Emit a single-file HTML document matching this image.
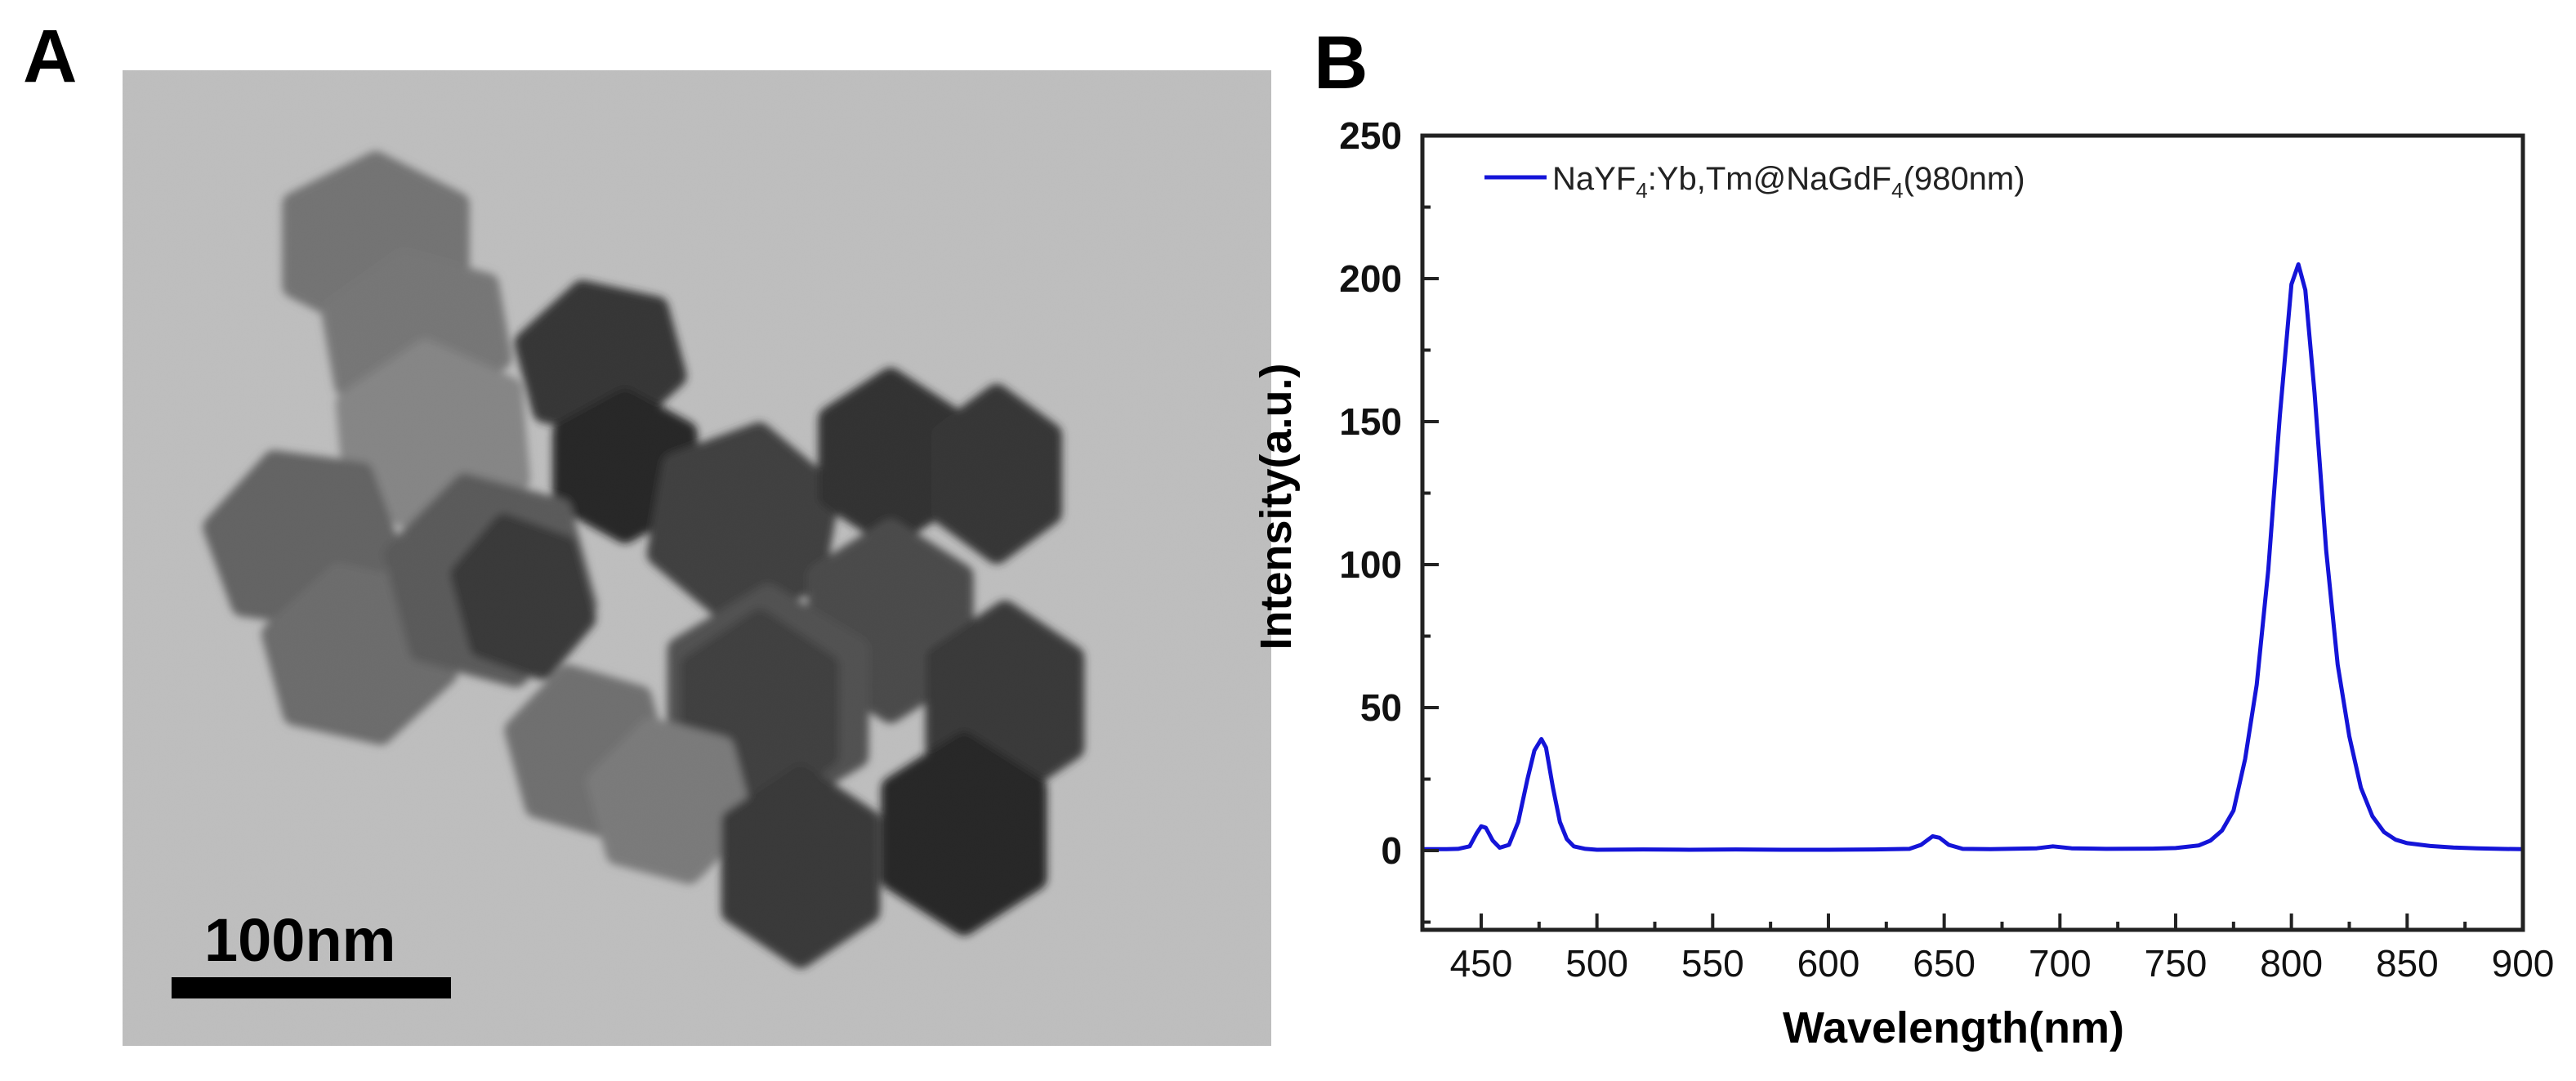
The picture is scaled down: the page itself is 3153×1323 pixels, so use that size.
<!DOCTYPE html>
<html><head><meta charset="utf-8"><style>
html,body{margin:0;padding:0;background:#fff;}
svg{display:block;}
text{font-family:"Liberation Sans",Arial,sans-serif;}
</style></head><body>
<svg id="fig" width="3153" height="1323" viewBox="0 0 3153 1323" xmlns="http://www.w3.org/2000/svg">
<defs>
<filter id="noise" x="0" y="0" width="100%" height="100%">
<feTurbulence type="fractalNoise" baseFrequency="0.9" numOctaves="2" seed="3" result="n"/>
<feColorMatrix type="matrix" values="0 0 0 0 0.72  0 0 0 0 0.72  0 0 0 0 0.72  0.35 0.35 0.35 0 -0.2" in="n" result="c"/>
<feComposite in="c" in2="SourceGraphic" operator="over"/>
</filter>
<filter id="blur"><feGaussianBlur stdDeviation="5"/></filter>
<clipPath id="temclip"><rect x="150" y="86" width="1406" height="1194"/></clipPath>
</defs>

<!-- Panel A -->
<text x="28" y="100" font-size="92" font-weight="bold">A</text>
<g clip-path="url(#temclip)">
<rect x="150" y="86" width="1406" height="1194" fill="#bdbdbd"/>
<g id="particles" filter="url(#blur)" stroke-linejoin="round"></g>
<rect x="150" y="86" width="1406" height="1194" fill="#bdbdbd" filter="url(#noise)" opacity="0.1"/>
</g>
<text x="250" y="1176" font-size="74" font-weight="bold">100nm</text>
<rect x="210" y="1196" width="342" height="26" fill="#000"/>

<!-- Panel B -->
<text x="1608" y="108" font-size="92" font-weight="bold">B</text>
<g id="chart"></g>
</svg>
<script>
// ---- TEM particles (decorative) ----
const NS="http://www.w3.org/2000/svg";
const particles=[
 [460,300,115,100,0,"#6a6a6a"],[510,410,110,90,-10,"#6e6e6e"],[530,540,115,110,-5,"#7e7e7e"],
 [735,440,95,85,-15,"#262626"],[765,570,85,80,0,"#181818"],
 [370,660,110,100,-20,"#585858"],[440,800,110,100,-15,"#626262"],
 [600,710,120,120,-15,"#505050"],[640,730,75,90,-15,"#2c2c2c"],
 [910,640,110,110,10,"#333333"],[1090,560,85,95,0,"#232323"],[1220,580,75,95,0,"#262626"],
 [1090,760,100,110,0,"#3c3c3c"],[940,860,125,130,0,"#444444"],[930,870,95,110,0,"#303030"],
 [1230,860,95,110,0,"#2c2c2c"],[720,920,90,95,-15,"#666666"],[820,980,90,90,-15,"#727272"],
 [980,1060,95,110,0,"#2a2a2a"],[1180,1020,100,110,0,"#161616"]
];
const pg=document.getElementById('particles');
particles.forEach(p=>{
 const [cx,cy,rx,ry,rot,col]=p;
 const pts=[];
 for(let i=0;i<6;i++){const a=Math.PI/3*i+Math.PI/6;pts.push((cx+rx*Math.cos(a)).toFixed(1)+","+(cy+ry*Math.sin(a)).toFixed(1));}
 const el=document.createElementNS(NS,'polygon');
 
 
 el.setAttribute('points',pts.join(' '));
 el.setAttribute('fill',col);el.setAttribute('stroke',col);el.setAttribute('stroke-width','30');
 el.setAttribute('transform','rotate('+rot+' '+cx+' '+cy+')');
 pg.appendChild(el);
});

// ---- Spectrum data ----
const wavelengths=[425,435,440,445,448,450,452,455,458,462,466,470,473,476,478,481,484,487,490,495,500,520,540,560,580,600,620,635,640,645,648,652,658,670,690,697,705,720,740,750,760,765,770,775,780,785,790,795,800,803,806,810,815,820,825,830,835,840,845,850,860,870,880,890,900];
const intensities=[0.5,0.5,0.6,1.5,6,8.5,8,3.5,1,2,10,25,35,39,36,22,10,4,1.5,0.6,0.3,0.4,0.3,0.4,0.3,0.3,0.4,0.6,2,5,4.5,2,0.6,0.5,0.8,1.5,0.8,0.6,0.7,0.9,1.8,3.5,7,14,32,58,98,152,198,205,196,160,105,65,40,22,12,6.5,3.8,2.6,1.6,1.1,0.8,0.6,0.5];
const xTicks=[450,500,550,600,650,700,750,800,850,900];
const yTicks=[0,50,100,150,200,250];

const X0=1741,X1=3088,Y0=166,Y1=1138;
const xMin=424.6,xMax=900,yMin=-27.7,yMax=250;
const xs=v=>X0+(v-xMin)/(xMax-xMin)*(X1-X0);
const ys=v=>Y1-(v-yMin)/(yMax-yMin)*(Y1-Y0);
const ch=document.getElementById('chart');
function mk(tag,attrs,name){const e=document.createElementNS(NS,tag);for(const k in attrs)e.setAttribute(k,attrs[k]);
 
 
 ch.appendChild(e);return e;}

let d="";wavelengths.forEach((w,i)=>{d+=(i?"L":"M")+xs(w).toFixed(1)+","+ys(intensities[i]).toFixed(1);});
mk('path',{d:d,fill:'none',stroke:'#1414d8','stroke-width':5,'stroke-linejoin':'round'},'spectrum-line');

mk('rect',{x:X0,y:Y0,width:X1-X0,height:Y1-Y0,fill:'none',stroke:'#222','stroke-width':5},'plot-frame');

xTicks.forEach(v=>{
 mk('line',{x1:xs(v),x2:xs(v),y1:Y1,y2:Y1-20,stroke:'#222','stroke-width':4},'x-tick');
 const t=mk('text',{x:xs(v),y:1195,'font-size':46,'text-anchor':'middle',fill:'#111'},'x-tick-label');t.textContent=v;
 if(v<900){const m=v+25;mk('line',{x1:xs(m),x2:xs(m),y1:Y1,y2:Y1-10,stroke:'#222','stroke-width':4},'x-minor-tick');}
});
yTicks.forEach(v=>{
 mk('line',{x1:X0,x2:X0+20,y1:ys(v),y2:ys(v),stroke:'#222','stroke-width':4},'y-tick');
 const t=mk('text',{x:1716,y:ys(v)+16,'font-size':46,'font-weight':'bold','text-anchor':'end',fill:'#111'},'y-tick-label');t.textContent=v;
 if(v<250){mk('line',{x1:X0,x2:X0+10,y1:ys(v+25),y2:ys(v+25),stroke:'#222','stroke-width':4},'y-minor-tick');}
});
mk('line',{x1:X0,x2:X0+10,y1:ys(-25),y2:ys(-25),stroke:'#222','stroke-width':4},'y-minor-tick');

let t=mk('text',{x:2391,y:1276,'font-size':54,'font-weight':'bold','text-anchor':'middle',fill:'#000'},'x-axis-title');t.textContent="Wavelength(nm)";
t=mk('text',{x:0,y:0,'font-size':54,'font-weight':'bold','text-anchor':'middle',fill:'#000',transform:'translate(1580,620) rotate(-90)'},'y-axis-title');t.textContent="Intensity(a.u.)";

mk('line',{x1:1817,x2:1893,y1:217,y2:217,stroke:'#1414d8','stroke-width':5},'legend-line');
t=mk('text',{x:1900,y:232,'font-size':40,fill:'#222'},'legend-label');
t.innerHTML='NaYF<tspan font-size="26" dy="10">4</tspan><tspan dy="-10">:Yb,Tm@NaGdF</tspan><tspan font-size="26" dy="10">4</tspan><tspan dy="-10">(980nm)</tspan>';
</script>
</body></html>
